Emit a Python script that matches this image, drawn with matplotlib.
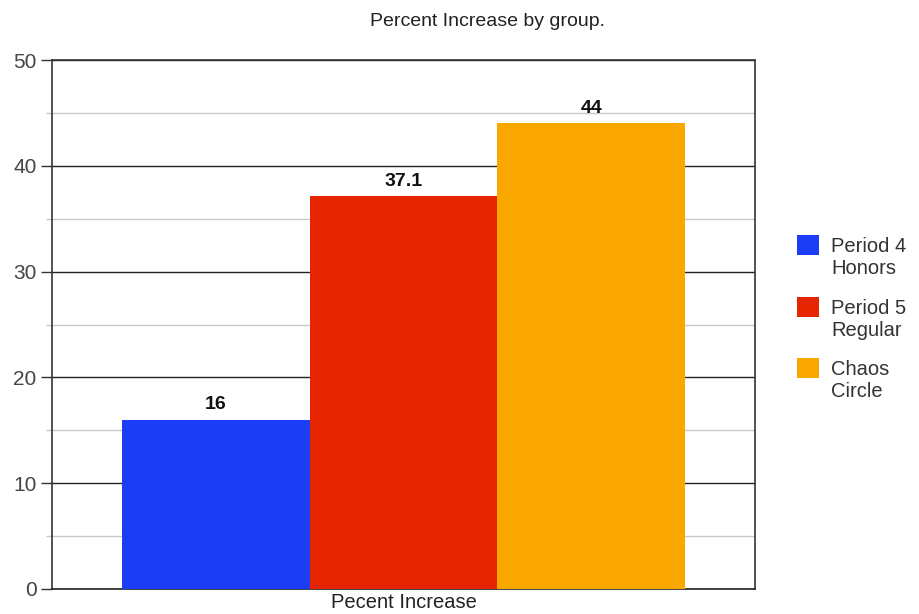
import matplotlib
matplotlib.use("Agg")
import matplotlib.pyplot as plt
from matplotlib.ticker import MultipleLocator
from matplotlib.patches import Rectangle

plt.rcParams['font.family'] = ['Liberation Sans', 'DejaVu Sans']

title = "Percent Increase by group."
category = "Pecent Increase"
series = ["Period 4\nHonors", "Period 5\nRegular", "Chaos\nCircle"]
values = [16, 37.1, 44]
value_labels = ["16", "37.1", "44"]
colors = ["#1b3df6", "#e42500", "#faa800"]

W, H = 919, 614
fig = plt.figure(figsize=(W/100, H/100), dpi=100)
ax = fig.add_axes([52/W, 1-589/H, 703/W, 529/H])

positions = [-1, 0, 1]
for p, v, c, s, lab in zip(positions, values, colors, series, value_labels):
    ax.bar(p, v, width=1.0, color=c, label=s, zorder=3)
    ax.text(p, v + 0.65, lab, ha='center', va='bottom', fontsize=14,
            fontweight='bold', color='#111111', zorder=4)

ax.set_xlim(-1.5 - 70/188, 1.5 + 70/188)
ax.set_ylim(0, 50)
ax.yaxis.set_major_locator(MultipleLocator(10))
ax.yaxis.set_minor_locator(MultipleLocator(5))
ax.grid(axis='y', which='major', color='#222222', linewidth=1.0, zorder=1)
ax.grid(axis='y', which='minor', color='#c8c8c8', linewidth=1.0, zorder=1)
ax.tick_params(axis='y', which='major', length=8, width=1, color='#333333',
               labelsize=15, labelcolor='#444444', pad=3)
ax.tick_params(axis='y', which='minor', length=4, width=1, color='#c8c8c8')
ax.set_xticks([0])
ax.set_xticklabels([category])
ax.tick_params(axis='x', length=0, labelsize=14.5, labelcolor='#222222', pad=3)

for sp in ['left', 'top', 'right']:
    ax.spines[sp].set_color('#333333')
    ax.spines[sp].set_linewidth(1.2)
ax.spines['bottom'].set_color('#222222')
ax.spines['bottom'].set_linewidth(1.2)

fig.text(487/W, 1-21/H, title, ha='center', va='center', fontsize=14,
         color='#222222')

# legend: square aligned with the first line of each two-line label
first_line_y = [245, 307, 368]
for s, c, y in zip(series, colors, first_line_y):
    fig.patches.append(Rectangle((797/W, 1-(y+10)/H), 22/W, 20/H,
                                 transform=fig.transFigure, facecolor=c,
                                 edgecolor='none'))
    fig.text(831/W, 1-(y-8)/H, s, ha='left', va='top', fontsize=14.5,
             color='#333333', linespacing=1.2)

fig.savefig("out.png", dpi=100)
